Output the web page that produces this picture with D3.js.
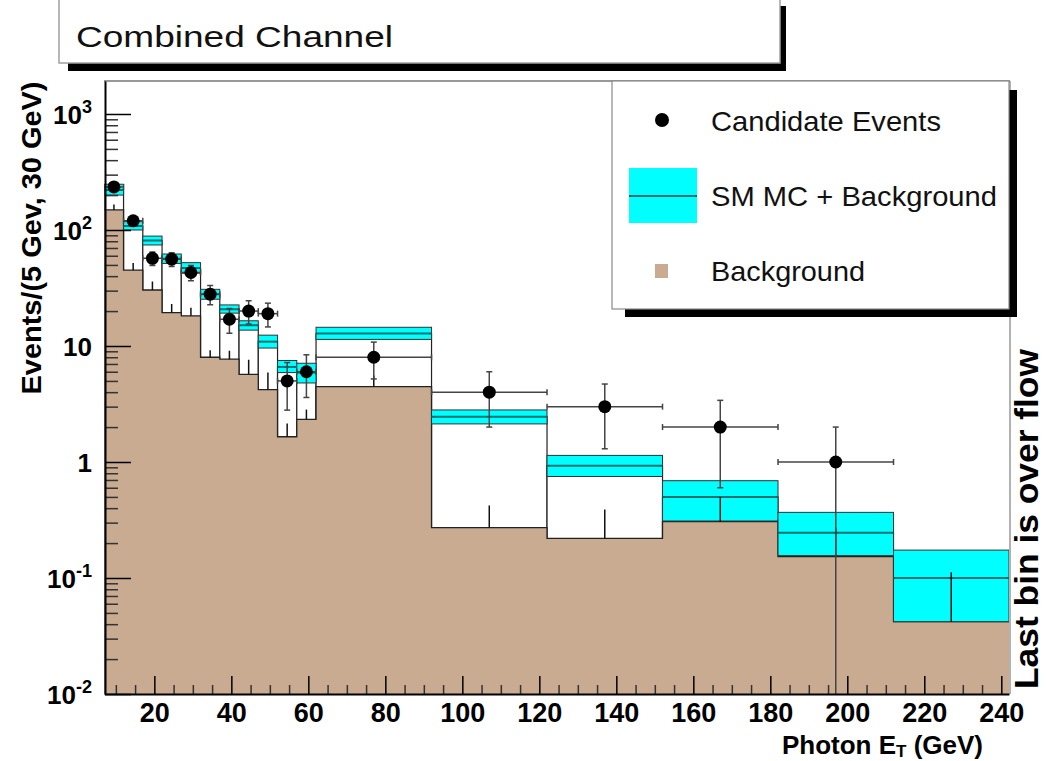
<!DOCTYPE html>
<html>
<head>
<meta charset="utf-8">
<script src="https://cdn.jsdelivr.net/npm/d3@7"></script>
<style>
body { margin: 0; background: #fff; }
svg { display: block; font-family: "Liberation Sans", Arial, Helvetica, sans-serif; }
</style>
</head>
<body>
<svg id="chart" width="1046" height="761"></svg>
<script>
// bin edges in GeV (5 GeV bins up to 62, then 30 GeV bins)
var binEdges = [7, 12, 17, 22, 27, 32, 37, 42, 47, 52, 57, 62, 92, 122, 152, 182, 212, 242];
// background histogram (tan) and its error
var background = [149, 45, 30.4, 19.4, 18.2, 8.0, 7.7, 5.7, 4.2, 1.65, 2.33, 4.46, 0.272, 0.22, 0.306, 0.153, 0.042];
var backgroundErr = [17, 7, 5.5, 3.6, 3.2, 1.2, 1.4, 1.9, 1.7, 0.5, 0.5, 1.1, 0.15, 0.17, 0.19, 0.12, 0.07];
// SM MC + background: central value and band
var smTotal = [221, 108, 81, 56.5, 47, 27.9, 20.7, 15.1, 10.9, 6.6, 5.9, 12.8, 2.46, 0.93, 0.50, 0.246, 0.10];
var smLow = [200, 100, 74.3, 51.5, 42.4, 25.3, 19.2, 13.7, 9.6, 5.9, 4.8, 11.4, 2.13, 0.75, 0.31, 0.156, 0.042];
var smHigh = [248, 118, 88.6, 62.1, 52.3, 30.8, 22.6, 16.5, 12.4, 7.5, 7.1, 14.5, 2.81, 1.14, 0.69, 0.368, 0.174];
// candidate events (last bin empty)
var candidates = [235, 120, 57, 56, 43, 28, 17, 20, 19, 5, 6, 8, 4, 3, 2, 1, null];
var candidateErr = [15, 11, 7.5, 7.5, 6.5, 5.3, 4.1, 4.5, 4.4, 2.2, 2.4, 2.8, 2, 1.7, 1.4, 1, null];

var xTicks = [20, 40, 60, 80, 100, 120, 140, 160, 180, 200, 220, 240];
var yTicks = [0.01, 0.1, 1, 10, 100, 1000];
var yTickLabels = [["10", "-2"], ["10", "-1"], ["1", ""], ["10", ""], ["10", "2"], ["10", "3"]];

var tanColor = "#c8ab90";
var cyanColor = "#00ffff";

var svg = d3.select("#chart");

var x = d3.scaleLinear().domain([7, 242]).range([104.3, 1009]);
var y = d3.scaleLog().domain([0.01, 1925]).range([694, 81]);
var yBottom = y.range()[0];

var bins = background.map(function(b, i) {
  return {
    x0: binEdges[i], x1: binEdges[i + 1],
    bkg: b, bkgErr: backgroundErr[i],
    sm: smTotal[i], lo: smLow[i], hi: smHigh[i],
    n: candidates[i], nErr: candidateErr[i]
  };
});

// title box
svg.append("rect").attr("x", 68).attr("y", 6).attr("width", 718).attr("height", 65).attr("fill", "#000");
svg.append("rect").attr("x", 59).attr("y", -4).attr("width", 721).attr("height", 67)
  .attr("fill", "#fff").attr("stroke", "#a0a0a0").attr("stroke-width", 1.5);
svg.append("text").attr("x", 76).attr("y", 47).attr("font-size", 30)
  .attr("textLength", 317).attr("lengthAdjust", "spacingAndGlyphs")
  .attr("fill", "#111").text("Combined Channel");

svg.append("clipPath").attr("id", "plotClip")
  .append("rect").attr("x", 104.3).attr("y", 81).attr("width", 1009 - 104.3).attr("height", 694 - 81);

var plot = svg.append("g").attr("clip-path", "url(#plotClip)");

// SM MC + background histogram (white boxes with black outline)
plot.append("g").selectAll("rect")
  .data(bins)
  .enter()
  .append("rect")
  .attr("x", function(d) { return x(d.x0); })
  .attr("y", function(d) { return y(d.sm); })
  .attr("width", function(d) { return x(d.x1) - x(d.x0); })
  .attr("height", function(d) { return yBottom - y(d.sm); })
  .attr("fill", "#fff")
  .attr("stroke", "#222")
  .attr("stroke-width", 1.2);

// background histogram as a step area
var stepPts = bins.map(function(d) { return { e: d.x0, v: d.bkg }; });
stepPts.push({ e: bins[bins.length - 1].x1, v: bins[bins.length - 1].bkg });

plot.append("path")
  .datum(stepPts)
  .attr("fill", tanColor)
  .attr("d", d3.area().curve(d3.curveStepAfter)
    .x(function(d) { return x(d.e); })
    .y0(yBottom)
    .y1(function(d) { return y(d.v); }));

plot.append("path")
  .datum(stepPts)
  .attr("fill", "none")
  .attr("stroke", "#222")
  .attr("stroke-width", 1.3)
  .attr("d", d3.line().curve(d3.curveStepAfter)
    .x(function(d) { return x(d.e); })
    .y(function(d) { return y(d.v); }));

// cyan uncertainty band
plot.append("g").selectAll("rect")
  .data(bins)
  .enter()
  .append("rect")
  .attr("x", function(d) { return x(d.x0); })
  .attr("y", function(d) { return y(d.hi); })
  .attr("width", function(d) { return x(d.x1) - x(d.x0); })
  .attr("height", function(d) { return y(d.lo) - y(d.hi); })
  .attr("fill", cyanColor)
  .attr("stroke", "#333")
  .attr("stroke-width", 1);

plot.append("g").selectAll("line")
  .data(bins)
  .enter()
  .append("line")
  .attr("x1", function(d) { return x(d.x0); })
  .attr("x2", function(d) { return x(d.x1); })
  .attr("y1", function(d) { return y(d.sm); })
  .attr("y2", function(d) { return y(d.sm); })
  .attr("stroke", "#007070")
  .attr("stroke-width", 2);

// background error ticks
plot.append("g").selectAll("line")
  .data(bins)
  .enter()
  .append("line")
  .attr("x1", function(d) { return x((d.x0 + d.x1) / 2); })
  .attr("x2", function(d) { return x((d.x0 + d.x1) / 2); })
  .attr("y1", function(d) { return y(d.bkg); })
  .attr("y2", function(d) { return y(d.bkg + d.bkgErr); })
  .attr("stroke", "#111")
  .attr("stroke-width", 1.5);

// candidate events
var pts = bins.filter(function(d) { return d.n !== null; });
var errG = plot.append("g").attr("stroke", "#444").attr("stroke-width", 1.5);

pts.forEach(function(d) {
  var cx = x((d.x0 + d.x1) / 2);
  var cy = y(d.n);
  var yTop = y(d.n + d.nErr);
  var yLow = d.n - d.nErr > 0 ? y(d.n - d.nErr) : yBottom;
  errG.append("line").attr("x1", cx).attr("x2", cx).attr("y1", yTop).attr("y2", yLow);
  errG.append("line").attr("x1", cx - 3).attr("x2", cx + 3).attr("y1", yTop).attr("y2", yTop);
  if (d.n - d.nErr > 0) {
    errG.append("line").attr("x1", cx - 3).attr("x2", cx + 3).attr("y1", yLow).attr("y2", yLow);
  }
  errG.append("line").attr("x1", x(d.x0)).attr("x2", x(d.x1)).attr("y1", cy).attr("y2", cy);
  errG.append("line").attr("x1", x(d.x0)).attr("x2", x(d.x0)).attr("y1", cy - 3).attr("y2", cy + 3);
  errG.append("line").attr("x1", x(d.x1)).attr("x2", x(d.x1)).attr("y1", cy - 3).attr("y2", cy + 3);
});

plot.append("g").selectAll("circle")
  .data(pts)
  .enter()
  .append("circle")
  .attr("cx", function(d) { return x((d.x0 + d.x1) / 2); })
  .attr("cy", function(d) { return y(d.n); })
  .attr("r", 6.5)
  .attr("fill", "#000");

// frame top / right
svg.append("line").attr("x1", 104).attr("x2", 1010).attr("y1", 81).attr("y2", 81)
  .attr("stroke", "#999").attr("stroke-width", 2);
svg.append("line").attr("x1", 1010).attr("x2", 1010).attr("y1", 81).attr("y2", 694)
  .attr("stroke", "#999").attr("stroke-width", 1.5);

// y axis
var yMinor = [];
yTicks.forEach(function(t) {
  for (var k = 2; k <= 9; k++) {
    if (t * k < y.domain()[1]) yMinor.push(t * k);
  }
});

svg.append("g")
  .attr("transform", "translate(105,0)")
  .call(d3.axisLeft(y).tickValues(yMinor).tickSize(-13).tickSizeOuter(0).tickFormat(""))
  .call(function(g) { g.selectAll(".tick line").attr("stroke", "#333").attr("stroke-width", 1.5); })
  .call(function(g) { g.select(".domain").remove(); });

var yAxis = svg.append("g")
  .attr("transform", "translate(105,0)")
  .call(d3.axisLeft(y).tickValues(yTicks).tickSize(-26).tickSizeOuter(0).tickFormat(""));
yAxis.select(".domain").attr("stroke", "#000").attr("stroke-width", 2);
yAxis.selectAll(".tick line").attr("stroke", "#000").attr("stroke-width", 1.5);

var yLab = svg.append("g").attr("font-weight", "bold").attr("fill", "#000");
yTicks.forEach(function(t, i) {
  var lab = yTickLabels[i];
  var txt = yLab.append("text")
    .attr("x", 92)
    .attr("y", y(t) + 10)
    .attr("text-anchor", "end")
    .attr("font-size", 26);
  txt.append("tspan").text(lab[0]);
  if (lab[1]) {
    txt.append("tspan").attr("font-size", 18).attr("dy", -11).text(lab[1]);
  }
});

// x axis
var xMinor = d3.range(10, 241, 5).filter(function(v) { return v % 20 !== 0; });

svg.append("g")
  .attr("transform", "translate(0,694)")
  .call(d3.axisBottom(x).tickValues(xMinor).tickSize(-9).tickSizeOuter(0).tickFormat(""))
  .call(function(g) { g.selectAll(".tick line").attr("stroke", "#333").attr("stroke-width", 1.5); })
  .call(function(g) { g.select(".domain").remove(); });

var xAxis = svg.append("g")
  .attr("transform", "translate(0,694)")
  .call(d3.axisBottom(x).tickValues(xTicks).tickSizeInner(-18).tickSizeOuter(0).tickPadding(9));
xAxis.select(".domain").attr("stroke", "#000").attr("stroke-width", 2);
xAxis.selectAll(".tick line").attr("stroke", "#000").attr("stroke-width", 1.5);
xAxis.selectAll(".tick text")
  .attr("fill", "#000")
  .attr("font-size", 27)
  .attr("font-weight", "bold")
  .attr("font-family", "\"Liberation Sans\", Arial, Helvetica, sans-serif");

// axis titles
var xTitle = svg.append("text")
  .attr("x", 983).attr("y", 754)
  .attr("text-anchor", "end")
  .attr("font-size", 26)
  .attr("font-weight", "bold");
xTitle.append("tspan").text("Photon E");
xTitle.append("tspan").attr("font-size", 17).attr("dy", 3).text("T");
xTitle.append("tspan").attr("dy", -3).text(" (GeV)");

svg.append("text")
  .attr("transform", "translate(41,238) rotate(-90)")
  .attr("text-anchor", "middle")
  .attr("font-size", 28)
  .attr("font-weight", "bold")
  .attr("textLength", 313)
  .attr("lengthAdjust", "spacingAndGlyphs")
  .text("Events/(5 Gev, 30 GeV)");

svg.append("text")
  .attr("transform", "translate(1038,519) rotate(-90)")
  .attr("text-anchor", "middle")
  .attr("font-size", 33)
  .attr("font-weight", "bold")
  .attr("textLength", 340)
  .attr("lengthAdjust", "spacingAndGlyphs")
  .text("Last bin is over flow");

// legend
var legend = svg.append("g");
legend.append("rect").attr("x", 1009).attr("y", 90).attr("width", 8).attr("height", 227).attr("fill", "#000");
legend.append("rect").attr("x", 625).attr("y", 309).attr("width", 392).attr("height", 8).attr("fill", "#000");
legend.append("rect").attr("x", 612).attr("y", 81).attr("width", 397).attr("height", 228)
  .attr("fill", "#fff").attr("stroke", "#8a8a8a").attr("stroke-width", 1.2);

legend.append("circle").attr("cx", 662).attr("cy", 120).attr("r", 7).attr("fill", "#000");
legend.append("rect").attr("x", 629).attr("y", 168).attr("width", 68).attr("height", 55).attr("fill", cyanColor);
legend.append("line").attr("x1", 629).attr("x2", 697).attr("y1", 196).attr("y2", 196)
  .attr("stroke", "#007070").attr("stroke-width", 2);
legend.append("rect").attr("x", 655).attr("y", 264).attr("width", 13).attr("height", 14).attr("fill", tanColor);

var legendItems = [
  { label: "Candidate Events", y: 131, w: 230 },
  { label: "SM MC + Background", y: 206, w: 286 },
  { label: "Background", y: 281, w: 154 }
];
legend.selectAll("text.item")
  .data(legendItems)
  .enter()
  .append("text")
  .attr("class", "item")
  .attr("x", 711)
  .attr("y", function(d) { return d.y; })
  .attr("font-size", 28)
  .attr("fill", "#111")
  .attr("textLength", function(d) { return d.w; })
  .attr("lengthAdjust", "spacingAndGlyphs")
  .text(function(d) { return d.label; });
</script>
</body>
</html>
